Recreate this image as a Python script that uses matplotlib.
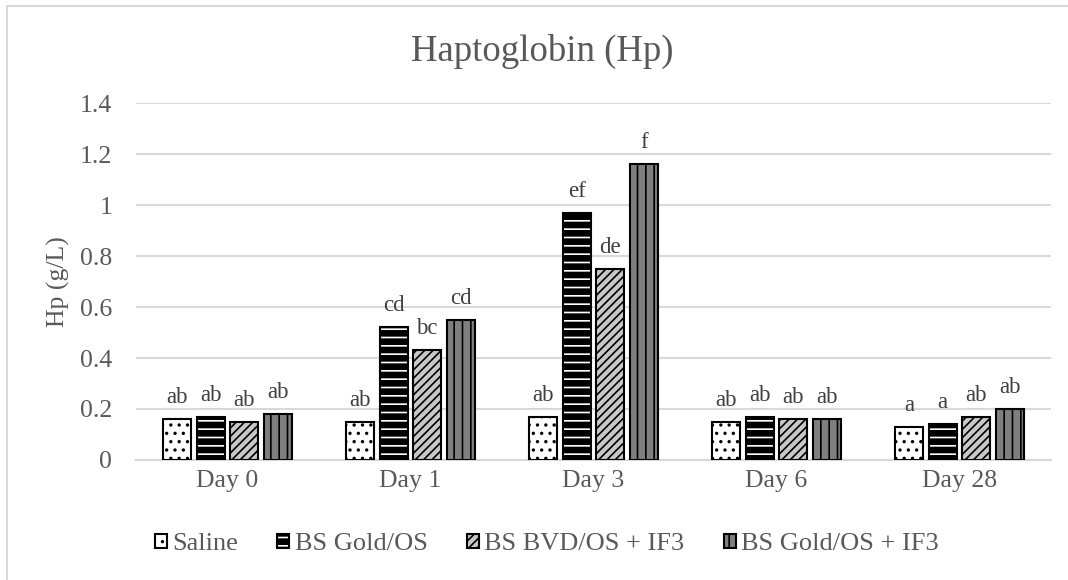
import matplotlib
matplotlib.use("Agg")
import matplotlib.pyplot as plt
from matplotlib.patches import Patch, Rectangle
from matplotlib.legend_handler import HandlerTuple
import numpy as np

days = ["Day 0", "Day 1", "Day 3", "Day 6", "Day 28"]
groups = ["Saline", "BS Gold/OS", "BS BVD/OS + IF3", "BS Gold/OS + IF3"]

saline = [0.16, 0.15, 0.17, 0.15, 0.13]
gold_os = [0.17, 0.52, 0.97, 0.17, 0.14]
bvd_if3 = [0.15, 0.43, 0.75, 0.16, 0.17]
gold_if3 = [0.18, 0.55, 1.16, 0.16, 0.20]

saline_letters = ["ab", "ab", "ab", "ab", "a"]
gold_os_letters = ["ab", "cd", "ef", "ab", "a"]
bvd_if3_letters = ["ab", "bc", "de", "ab", "ab"]
gold_if3_letters = ["ab", "cd", "f", "ab", "ab"]

series = [saline, gold_os, bvd_if3, gold_if3]
letters = [saline_letters, gold_os_letters, bvd_if3_letters, gold_if3_letters]

# fill colour, hatch colour, hatch pattern for each group
styles = [
    ("white", "black", ".."),
    ("black", "white", "--"),
    ("#c8c8c8", "black", "////"),
    ("#7f7f7f", "black", "||"),
]

plt.rcParams["font.family"] = ["Liberation Serif", "DejaVu Serif"]
plt.rcParams["hatch.linewidth"] = 1.2

text_col = "#595959"
grid_col = "#d9d9d9"

fig = plt.figure(figsize=(10.68, 5.80), dpi=100)
ax = fig.add_axes([0.1273, 0.2069, 0.8567, 0.6155])

x = np.arange(len(days))
pitch = 0.184
width = 0.153

handles = []
for i, (vals, labs, (fc, hc, hatch)) in enumerate(zip(series, letters, styles)):
    pos = x + (i - 1.5) * pitch
    ax.bar(pos, vals, width, color=fc, edgecolor=hc, hatch=hatch,
           linewidth=0, zorder=3)
    ax.bar(pos, vals, width, fill=False, edgecolor="black",
           linewidth=1.5, zorder=4)
    for px, v, t in zip(pos, vals, labs):
        ax.annotate(t, (px, v), xytext=(0, 8), textcoords="offset points",
                    ha="center", va="bottom", fontsize=16.5, color="#404040")
    h1 = Patch(facecolor=fc, edgecolor=hc, hatch=hatch, linewidth=0)
    h2 = Patch(fill=False, edgecolor="black", linewidth=1.5)
    handles.append((h1, h2))

ax.set_ylim(0, 1.4)
ax.set_xlim(-0.5, len(days) - 0.5)
ax.set_yticks(np.arange(0, 1.41, 0.2))
ax.set_yticklabels(["0", "0.2", "0.4", "0.6", "0.8", "1", "1.2", "1.4"])
ax.set_xticks(x)
ax.set_xticklabels(days)
ax.tick_params(axis="both", length=0, labelsize=18.5, labelcolor=text_col)
ax.tick_params(axis="y", pad=17)
ax.tick_params(axis="x", pad=7)
ax.grid(axis="y", color=grid_col, linewidth=1.5, zorder=0)
ax.set_axisbelow(True)
for s in ["top", "right", "left"]:
    ax.spines[s].set_visible(False)
ax.spines["bottom"].set_color(grid_col)
ax.spines["bottom"].set_linewidth(1.5)

ax.set_ylabel("Hp (g/L)", fontsize=18.5, color=text_col)
ax.yaxis.set_label_coords(-0.072, 0.5)
fig.text(0.508, 0.912, "Haptoglobin (Hp)", ha="center", va="center",
         fontsize=26.5, color=text_col)

fig.legend(handles, groups,
           handler_map={tuple: HandlerTuple(ndivide=1, pad=0)},
           loc="center", bbox_to_anchor=(0.512, 0.062), ncol=4, frameon=False,
           fontsize=19, labelcolor=text_col, handlelength=0.45,
           handleheight=0.45, handletextpad=0.2, columnspacing=1.5)

fig.patches.append(Rectangle((7 / 1068, -0.05), 1.2, 1 - 6 / 580 + 0.05,
                             transform=fig.transFigure, fill=False,
                             edgecolor=grid_col, linewidth=1.5))

fig.savefig("out.png", dpi=100)
